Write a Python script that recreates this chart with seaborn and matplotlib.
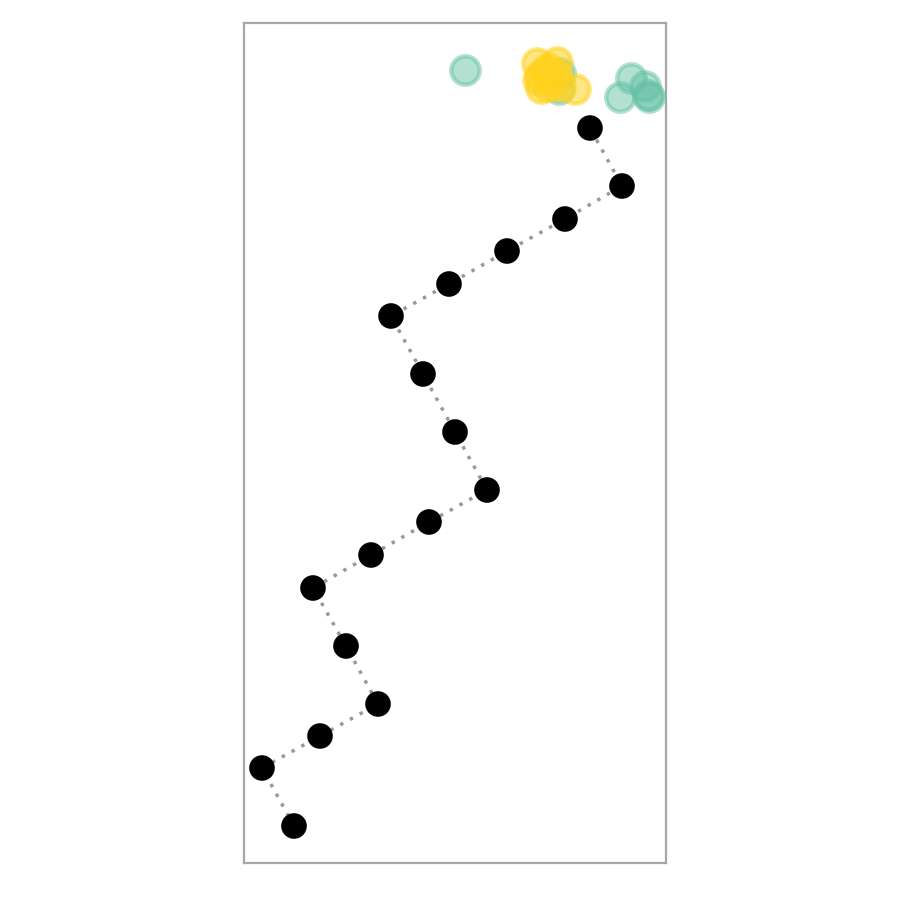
import matplotlib
matplotlib.use("Agg")
import matplotlib.pyplot as plt
import seaborn as sns
import pandas as pd

sns.set_theme(style="white")

path_x = [5.0, 1.8, 7.6, 13.4, 10.2, 6.9, 12.7, 18.5, 24.3, 21.1, 17.9, 14.7, 20.5, 26.3, 32.1, 37.8, 34.6]
path_y = [3.7, 9.5, 12.7, 15.9, 21.7, 27.5, 30.8, 34.1, 37.3, 43.1, 48.9, 54.7, 57.9, 61.2, 64.4, 67.7, 73.5]

green_x = [22.1, 31.6, 31.5, 38.7, 40.1, 37.6, 40.4, 40.5]
green_y = [79.3, 79.0, 77.4, 78.5, 77.7, 76.6, 76.8, 76.6]

yellow_x = [29.3, 31.3, 30.4, 29.6, 29.7, 31.6, 33.1, 30.8, 30.1, 31.2, 30.4, 29.4]
yellow_y = [80.0, 80.1, 79.5, 78.7, 77.5, 77.7, 77.4, 78.3, 79.1, 78.9, 77.7, 78.3]

green = "#66c2a5"
yellow = "#ffd21f"

fig = plt.figure(figsize=(9, 9), dpi=100)
ax = fig.add_axes([244/900, 37/900, 422/900, 840/900])

path_df = pd.DataFrame({"x": path_x, "y": path_y})
sns.lineplot(data=path_df, x="x", y="y", sort=False, ax=ax, color="#999999",
             linestyle=(0, (1, 2.2)), linewidth=2.5, estimator=None)
sns.scatterplot(data=path_df, x="x", y="y", ax=ax, color="black", s=340,
                edgecolor="none", zorder=3)

gdf = pd.DataFrame({"x": green_x, "y": green_y})
sns.scatterplot(data=gdf, x="x", y="y", ax=ax, color=green, s=420, alpha=0.5,
                edgecolor=green, linewidth=3.2, zorder=4)
ydf = pd.DataFrame({"x": yellow_x, "y": yellow_y})
sns.scatterplot(data=ydf, x="x", y="y", ax=ax, color=yellow, s=420, alpha=0.55,
                edgecolor=yellow, linewidth=3.2, zorder=5)

ax.set_xlim(0, 42.2)
ax.set_ylim(0, 84)
ax.set_xticks([])
ax.set_yticks([])
ax.set_xlabel("")
ax.set_ylabel("")
for sp in ax.spines.values():
    sp.set_visible(True)
    sp.set_color("#a6a6a6")
    sp.set_linewidth(1.6)

fig.savefig("out.png", dpi=100)
